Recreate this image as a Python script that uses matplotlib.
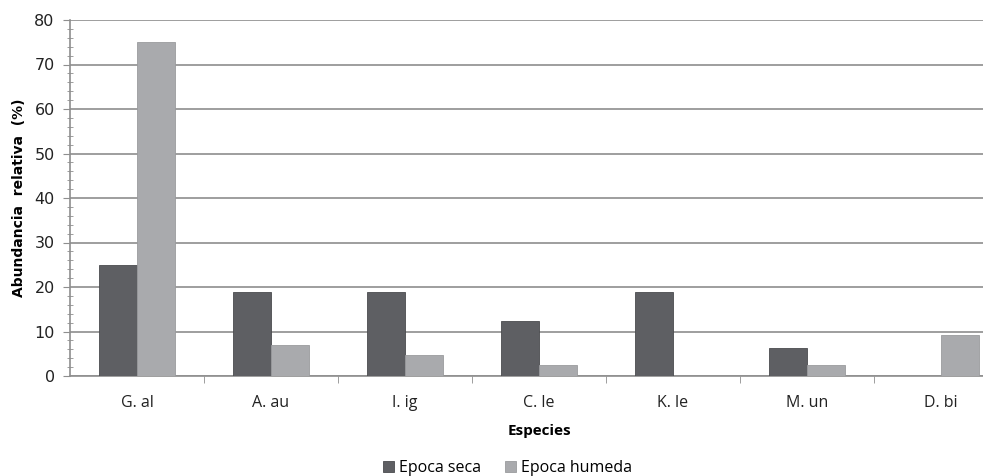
import numpy as np
import matplotlib
matplotlib.use('Agg')
import matplotlib.pyplot as plt
from matplotlib.ticker import MultipleLocator

especies = ['G. al', 'A. au', 'I. ig', 'C. le', 'K. le', 'M. un', 'D. bi']
epoca_seca = [25, 18.8, 18.8, 12.4, 18.8, 6.3, 0]
epoca_humeda = [75, 6.9, 4.7, 2.5, 0, 2.5, 9.2]

dark = '#5e5f63'
light = '#a9aaad'
gridc = '#8e8e8e'

fig = plt.figure(figsize=(9.83, 4.76), dpi=100)
# axes runs past the right edge like the cropped original
ax = fig.add_axes([70 / 983, 100 / 476, 938 / 983, 356 / 476])

x = np.arange(len(especies))
width = 0.28
b1 = ax.bar(x - width / 2, epoca_seca, width, color=dark, edgecolor='#4a4b4e', linewidth=0.6, zorder=3)
b2 = ax.bar(x + width / 2, epoca_humeda, width, color=light, edgecolor='#9a9b9e', linewidth=0.6, zorder=3)

ax.set_xlim(-0.5, len(especies) - 0.5)
ax.set_ylim(0, 80)
ax.yaxis.set_major_locator(MultipleLocator(10))
ax.yaxis.set_minor_locator(MultipleLocator(2))
ax.grid(axis='y', color=gridc, linewidth=1.2, zorder=0)

ax.set_xticks(x)
ax.set_xticklabels(especies, fontsize=11.5, family='Open Sans', color='#222222')
ax.set_xticks(np.arange(len(especies)) + 0.5, minor=True)
ax.tick_params(axis='x', which='major', length=0, pad=14)
ax.tick_params(axis='x', which='minor', length=5, color=gridc, direction='out')
ax.tick_params(axis='y', which='major', length=5, color=gridc, labelsize=11.5, labelcolor='#222222', pad=6)
ax.tick_params(axis='y', which='minor', length=5, color=gridc, direction='inout')

for s in ['top', 'right']:
    ax.spines[s].set_visible(False)
for s in ['left', 'bottom']:
    ax.spines[s].set_color(gridc)
    ax.spines[s].set_linewidth(1.2)

ax.set_ylabel('Abundancia  relativa  (%)', fontsize=10, fontweight='bold', labelpad=6)
ax.set_xlabel('Especies', fontsize=11, fontweight='bold', family='Open Sans', labelpad=9)

fig.legend((b1[0], b2[0]), ('Epoca seca', 'Epoca humeda'), loc='lower center',
           bbox_to_anchor=(0.516, -0.03), ncol=2, frameon=False, handlelength=0.7,
           handleheight=0.7, handletextpad=0.3, columnspacing=1.5,
           prop={'family': 'Open Sans', 'size': 11.5})

fig.savefig('out.png', dpi=100)
